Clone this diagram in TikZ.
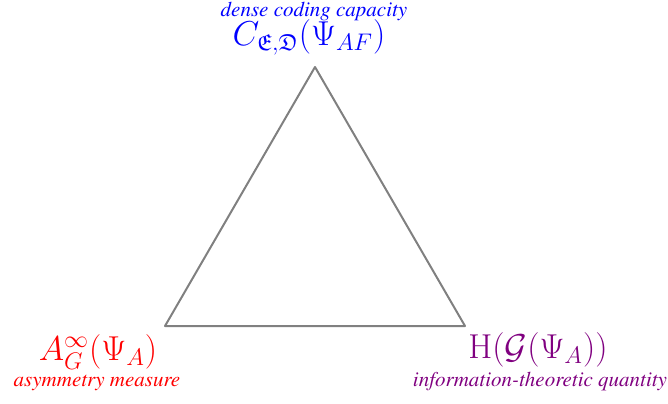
\documentclass[tikz,border=0pt]{standalone}
\usepackage{amsmath,amssymb}
\usepackage{tikz}
\usetikzlibrary{positioning}
\definecolor{capblue}{RGB}{0,0,255}
\definecolor{asymred}{RGB}{255,0,0}
\definecolor{infopurple}{RGB}{128,0,128}
\definecolor{edgegray}{RGB}{128,128,128}
\newcommand{\timesit}{\fontencoding{T1}\fontfamily{ptm}\fontshape{it}\fontsize{10.5}{12}\selectfont}
\tikzset{
  side/.style={edgegray,line width=1pt,line join=round},
  quantity/.style={font=\fontsize{16.5}{18}\selectfont,inner sep=0pt,anchor=base},
  caption/.style={font=\timesit,inner sep=0pt,anchor=base}
}

\begin{document}
\begin{tikzpicture}[x=0.5pt,y=-0.5pt]
  \useasboundingbox (0,0) rectangle (668,403);
  % corners of the triangle
  \coordinate (top) at (315,67);
  \coordinate (left) at (165,326);
  \coordinate (right) at (465,326);
  \draw[side] (top) -- (left) -- (right) -- cycle;
  % labels at the corners
  \node[quantity,text=capblue] (capacity) at (309,45) {$C_{\mathfrak{E},\mathfrak{D}}(\Psi_{AF})$};
  \node[caption,text=capblue] (capacitytext) at (314,16) {dense coding capacity};
  \node[quantity,text=asymred] (asym) at (98,360) {$A_G^{\infty}(\Psi_A)$};
  \node[caption,text=asymred] (asymtext) at (97,386) {asymmetry measure};
  \node[quantity,text=infopurple] (info) at (538,358) {$\mathrm{H}(\mathcal{G}(\Psi_A))$};
  \node[caption,text=infopurple] (infotext) at (540,386) {information-theoretic quantity};
\end{tikzpicture}
\end{document}
